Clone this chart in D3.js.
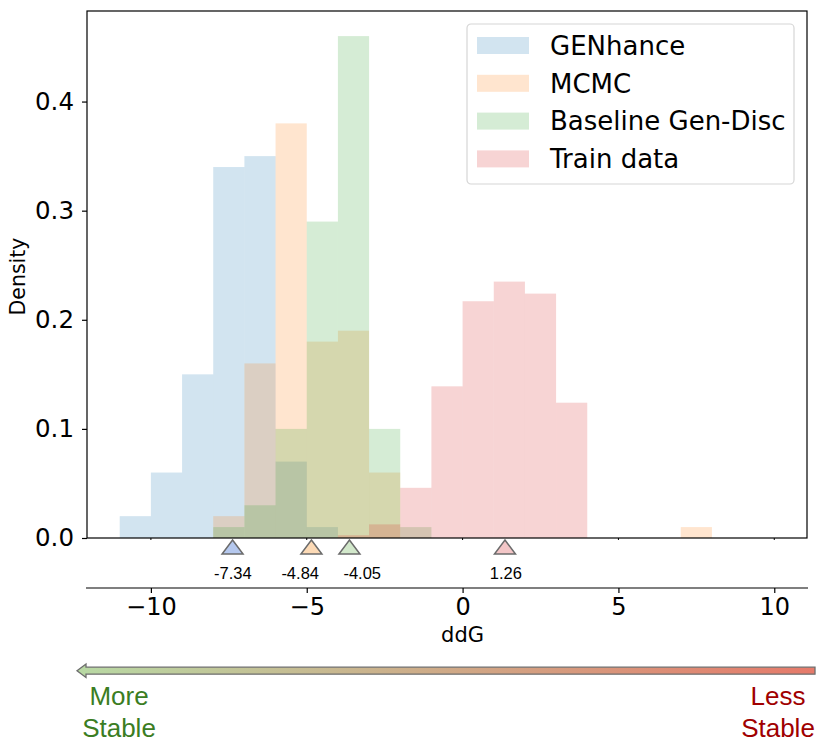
<!DOCTYPE html>
<html>
<head>
<meta charset="utf-8">
<script src="https://cdn.jsdelivr.net/npm/d3@7"></script>
<style>
  html, body { margin: 0; padding: 0; background: #fff; }
  svg { display: block; }
</style>
</head>
<body>
<svg id="chart" width="830" height="746"></svg>
<script>
// ddG histogram: four overlaid density histograms, mean markers, stability arrow.

const binLefts = [-11, -10, -9, -8, -7, -6, -5, -4, -3, -2, -1, 0, 1, 2, 3, 4, 5, 6, 7, 8, 9];
const genhance = [0.02, 0.06, 0.15, 0.34, 0.35, 0.07, 0.01, 0, 0, 0, 0, 0, 0, 0, 0, 0, 0, 0, 0, 0, 0];
const mcmc     = [0, 0, 0, 0.02, 0.16, 0.38, 0.18, 0.19, 0.06, 0, 0, 0, 0, 0, 0, 0, 0, 0, 0.01, 0, 0];
const baseline = [0, 0, 0, 0.01, 0.03, 0.10, 0.29, 0.46, 0.10, 0.01, 0, 0, 0, 0, 0, 0, 0, 0, 0, 0, 0];
const trainData = [0, 0, 0, 0, 0, 0, 0, 0.0025, 0.0125, 0.046, 0.139, 0.217, 0.235, 0.224, 0.124, 0, 0, 0, 0, 0, 0];

const seriesNames  = ["GENhance", "MCMC", "Baseline Gen-Disc", "Train data"];
const seriesValues = [genhance, mcmc, baseline, trainData];
const seriesColors = ["#1f77b4", "#ff7f0e", "#2ca02c", "#d62728"];
const markerFills  = ["#b5c8ee", "#fcdab6", "#d2e8cb", "#f3c6c7"];

// Marker positions as drawn, the value printed beneath each one,
// and where that text sits (nudged apart where two markers are close).
const markerX      = [-7.38, -4.85, -3.63, 1.36];
const markerLabels = ["-7.34", "-4.84", "-4.05", "1.26"];
const labelX       = [-7.37, -5.21, -3.22, 1.39];

const xTicks = [-10, -5, 0, 5, 10];
const yTicks = [0.0, 0.1, 0.2, 0.3, 0.4];

const SANS = "DejaVu Sans, sans-serif";
const ARIAL = "Liberation Sans, Arial, sans-serif";

const svg = d3.select("#chart");

const plot = { left: 87, right: 807, top: 11, bottom: 538 };

const x = d3.scaleLinear().domain([-12.05, 11.05]).range([plot.left, plot.right]);
const y = d3.scaleLinear().domain([0, 0.483]).range([plot.bottom, plot.top]);

// Bars, drawn in series order so overlaps blend like the original.
seriesValues.forEach((vals, si) => {
  svg.append("g")
    .selectAll("rect")
    .data(binLefts.map((b, i) => ({ b, v: vals[i] })).filter(d => d.v > 0))
    .join("rect")
    .attr("x", d => x(d.b))
    .attr("width", d => x(d.b + 1) - x(d.b))
    .attr("y", d => y(d.v))
    .attr("height", d => y(0) - y(d.v))
    .attr("fill", seriesColors[si])
    .attr("fill-opacity", 0.2);
});

// Frame.
svg.append("rect")
  .attr("x", plot.left).attr("y", plot.top)
  .attr("width", plot.right - plot.left)
  .attr("height", plot.bottom - plot.top)
  .attr("fill", "none")
  .attr("stroke", "#000")
  .attr("stroke-width", 1.2);

// Y axis.
const yAxis = svg.append("g")
  .attr("transform", `translate(${plot.left},0)`)
  .call(d3.axisLeft(y).tickValues(yTicks).tickFormat(d3.format(".1f")).tickSize(5).tickPadding(8));
yAxis.select(".domain").remove();
yAxis.selectAll("line").attr("stroke", "#000").attr("stroke-width", 1.2);
yAxis.selectAll("text")
  .attr("font-family", SANS)
  .attr("font-size", "24.5px")
  .attr("fill", "#000");

svg.append("text")
  .attr("transform", `translate(25,${(plot.top + plot.bottom) / 2 + 2}) rotate(-90)`)
  .attr("text-anchor", "middle")
  .attr("font-family", SANS)
  .attr("font-size", "20.5px")
  .text("Density");

// Small ticks under the main frame.
svg.append("g")
  .selectAll("line")
  .data(xTicks)
  .join("line")
  .attr("x1", d => x(d)).attr("x2", d => x(d))
  .attr("y1", plot.bottom).attr("y2", plot.bottom + 2)
  .attr("stroke", "#000").attr("stroke-width", 1);

// Mean markers.
const triW = 21, triH = 14, triTop = 540;
const markers = svg.append("g");
markerX.forEach((mx, i) => {
  const cx = x(mx);
  markers.append("path")
    .attr("d", `M${cx},${triTop} L${cx + triW / 2},${triTop + triH} L${cx - triW / 2},${triTop + triH} Z`)
    .attr("fill", markerFills[i])
    .attr("stroke", "#6b6b6b")
    .attr("stroke-width", 1.5)
    .attr("stroke-linejoin", "miter");
  markers.append("text")
    .attr("x", x(labelX[i])).attr("y", 579)
    .attr("text-anchor", "middle")
    .attr("font-family", ARIAL)
    .attr("font-size", "16.5px")
    .attr("fill", "#000")
    .text(markerLabels[i]);
});

// Secondary x axis below the markers.
const xAxis = svg.append("g")
  .attr("transform", "translate(0,588)")
  .call(d3.axisBottom(x).tickValues(xTicks).tickFormat(d => d < 0 ? "\u2212" + Math.abs(d) : d).tickSize(5).tickPadding(5));
xAxis.select(".domain")
  .attr("d", `M${plot.left - 1},0H${plot.right + 1}`)
  .attr("stroke", "#000").attr("stroke-width", 1.2);
xAxis.selectAll("line").attr("stroke", "#000").attr("stroke-width", 1.2);
xAxis.selectAll("text")
  .attr("font-family", SANS)
  .attr("font-size", "24px")
  .attr("fill", "#000");

svg.append("text")
  .attr("x", x(0)).attr("y", 642)
  .attr("text-anchor", "middle")
  .attr("font-family", SANS)
  .attr("font-size", "21px")
  .text("ddG");

// Legend.
const legend = svg.append("g").attr("transform", "translate(467,24)");
legend.append("rect")
  .attr("width", 327).attr("height", 160)
  .attr("rx", 4)
  .attr("fill", "#fff").attr("fill-opacity", 0.8)
  .attr("stroke", "#d6d6d6").attr("stroke-width", 1.2);
seriesNames.forEach((name, i) => {
  const cy = 21.5 + i * 37.8;
  legend.append("rect")
    .attr("x", 10).attr("y", cy - 8.5)
    .attr("width", 52).attr("height", 17)
    .attr("fill", seriesColors[i]).attr("fill-opacity", 0.2);
  legend.append("text")
    .attr("x", 83).attr("y", cy)
    .attr("dy", "0.36em")
    .attr("font-family", SANS)
    .attr("font-size", "26px")
    .attr("fill", "#000")
    .text(name);
});

// Stability arrow.
const grad = svg.append("defs").append("linearGradient")
  .attr("id", "stab").attr("x1", "0%").attr("x2", "100%");
grad.append("stop").attr("offset", "0%").attr("stop-color", "#b8d9a4");
grad.append("stop").attr("offset", "100%").attr("stop-color", "#e67a6a");

const ay = 670.7, shaftH = 7, headH = 13.5, tipX = 77, headBase = 86, endX = 815;
svg.append("path")
  .attr("d", `M${tipX},${ay} L${headBase},${ay - headH / 2} L${headBase},${ay - shaftH / 2} ` +
             `L${endX},${ay - shaftH / 2} L${endX},${ay + shaftH / 2} L${headBase},${ay + shaftH / 2} ` +
             `L${headBase},${ay + headH / 2} Z`)
  .attr("fill", "url(#stab)")
  .attr("stroke", "#6e6e6e")
  .attr("stroke-width", 1.3);

const endLabels = [
  { x: 119, lines: ["More", "Stable"], color: "#3b7d23" },
  { x: 778, lines: ["Less", "Stable"], color: "#a00000" },
];
endLabels.forEach(l => {
  l.lines.forEach((t, j) => {
    svg.append("text")
      .attr("x", l.x).attr("y", 705 + j * 32)
      .attr("text-anchor", "middle")
      .attr("font-family", ARIAL)
      .attr("font-size", "26px")
      .attr("fill", l.color)
      .text(t);
  });
});
</script>
</body>
</html>
